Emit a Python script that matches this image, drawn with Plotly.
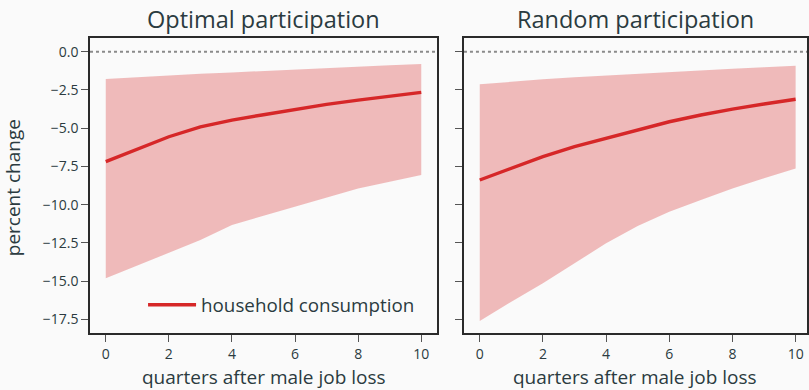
import plotly.graph_objects as go

# quarters after job loss
quarters = [0, 1, 2, 3, 4, 5, 6, 7, 8, 9, 10]

# Optimal participation: mean response and confidence band (percent change)
opt_mean = [-7.19, -6.36, -5.56, -4.92, -4.47, -4.12, -3.77, -3.44, -3.16, -2.90, -2.66]
opt_upper = [-1.79, -1.66, -1.55, -1.44, -1.35, -1.25, -1.15, -1.06, -0.97, -0.88, -0.80]
opt_lower = [-14.82, -14.00, -13.15, -12.32, -11.33, -10.72, -10.13, -9.52, -8.94, -8.50, -8.06]

# Random participation: mean response and confidence band (percent change)
rnd_mean = [-8.39, -7.63, -6.86, -6.21, -5.67, -5.12, -4.58, -4.14, -3.75, -3.42, -3.11]
rnd_upper = [-2.13, -1.95, -1.80, -1.67, -1.55, -1.43, -1.32, -1.22, -1.11, -1.01, -0.91]
rnd_lower = [-17.61, -16.35, -15.15, -13.84, -12.53, -11.40, -10.46, -9.70, -8.94, -8.28, -7.63]

panel_titles = ["Optimal participation", "Random participation"]
x_title = "quarters after male job loss"
y_title = "percent change"
legend_label = "household consumption"
y_ticks = [0.0, -2.5, -5.0, -7.5, -10.0, -12.5, -15.0, -17.5]
x_ticks = [0, 2, 4, 6, 8, 10]

RED = "#d62728"
BAND = "rgba(214,39,40,0.3)"
BG = "#fafafa"
TXT = "#2b3b40"
FONT = "Open Sans"

fig = go.Figure()

panels = [
    ("x", "y", opt_mean, opt_upper, opt_lower, True),
    ("x2", "y2", rnd_mean, rnd_upper, rnd_lower, False),
]
for xa, ya, mean, upper, lower, show in panels:
    fig.add_trace(go.Scatter(x=quarters, y=upper, xaxis=xa, yaxis=ya, mode="lines",
                             line=dict(width=0, color=BAND), showlegend=False,
                             hoverinfo="skip"))
    fig.add_trace(go.Scatter(x=quarters, y=lower, xaxis=xa, yaxis=ya, mode="lines",
                             line=dict(width=0, color=BAND), fill="tonexty",
                             fillcolor=BAND, showlegend=False, hoverinfo="skip"))
    fig.add_trace(go.Scatter(x=quarters, y=mean, xaxis=xa, yaxis=ya, mode="lines",
                             line=dict(width=3.4, color=RED), name=legend_label,
                             showlegend=show))
    # zero reference line
    fig.add_shape(type="line", xref=f"{xa} domain", yref=ya, x0=0, x1=1, y0=0, y1=0,
                  line=dict(color="#8a8a8a", width=1.8, dash="dot"), layer="below")

axis_common = dict(showline=True, mirror=True, linecolor="#2a2a2a", linewidth=1.6,
                   ticks="outside", ticklen=7, tickwidth=1.4, tickcolor="#555555",
                   showgrid=False, zeroline=False,
                   tickfont=dict(family=FONT, size=14, color=TXT))

L, R, T, B = 90, 0, 38, 57
W, H = 809, 390
pw = W - L - R
d1 = (0.0, (438 - L) / pw)
d2 = ((465 - L) / pw, 1.0)

fig.update_layout(
    width=W, height=H, autosize=False,
    margin=dict(l=L, r=R, t=T, b=B, pad=0),
    paper_bgcolor=BG, plot_bgcolor=BG,
    font=dict(family=FONT, color=TXT),
    xaxis=dict(domain=d1, range=[-0.5, 10.5], tickvals=x_ticks, **axis_common),
    xaxis2=dict(domain=d2, range=[-0.5, 10.36], tickvals=x_ticks, anchor="y2", **axis_common),
    yaxis=dict(domain=[0, 1], range=[-18.4, 0.9], tickvals=y_ticks,
               ticktext=[f"{v:.1f}".replace("-", "\u2212") for v in y_ticks], **axis_common),
    yaxis2=dict(domain=[0, 1], range=[-18.4, 0.9], tickvals=y_ticks, showticklabels=False,
                anchor="x2", matches="y", **axis_common),
    legend=dict(x=0.074, y=0.095, xanchor="left", yanchor="middle", itemwidth=48,
                bgcolor="rgba(0,0,0,0)", font=dict(family=FONT, size=18.8, color=TXT)),
    showlegend=True,
)

# panel titles and x-axis titles
for dom, title in zip([d1, d2], panel_titles):
    fig.add_annotation(text=title, x=(dom[0] + dom[1]) / 2, y=(H - B - 19) / (H - T - B),
                       xref="paper", yref="paper", xanchor="center", yanchor="middle",
                       showarrow=False, font=dict(family=FONT, size=23.5, color=TXT))
    fig.add_annotation(text=x_title, x=(dom[0] + dom[1]) / 2, y=-(377 - (H - B)) / (H - T - B),
                       xref="paper", yref="paper", xanchor="center", yanchor="middle",
                       showarrow=False, font=dict(family=FONT, size=19, color=TXT))

fig.add_annotation(text=y_title, x=-(L - 13) / pw, y=(333 - 188) / (H - T - B), textangle=-90,
                   xref="paper", yref="paper", xanchor="center", yanchor="middle",
                   showarrow=False, font=dict(family=FONT, size=19, color=TXT))

fig.write_html("out.html")
